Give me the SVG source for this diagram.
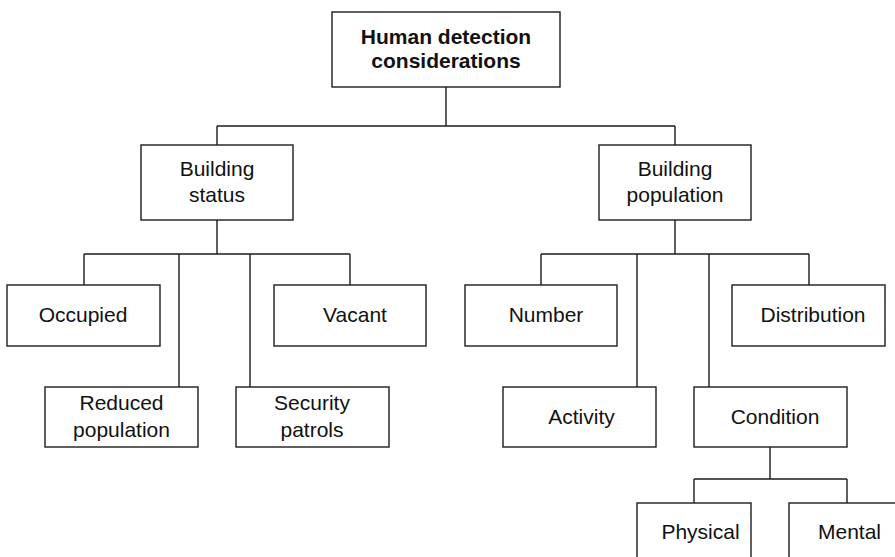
<svg xmlns="http://www.w3.org/2000/svg" width="895" height="557" viewBox="0 0 895 557">
  <style>
    .box { fill: #ffffff; stroke: #1c1c1c; stroke-width: 1.4; }
    .wire { fill: none; stroke: #1c1c1c; stroke-width: 1.4; }
    text { font-family: "Liberation Sans", Arial, Helvetica, sans-serif; font-size: 21px; fill: #111111; text-anchor: middle; }
    .title { font-weight: bold; }
  </style>
  <rect width="895" height="557" fill="#ffffff"/>

  <!-- tree connectors -->
  <g id="connectors">
    <path class="wire" d="M446 87V126M217 126H675M217 126V145M675 126V145"/>
    <path class="wire" d="M217 220V254M84 254H350M84 254V285M179 254V387M250 254V387M350 254V285"/>
    <path class="wire" d="M675 220V254M541 254H809M541 254V285M637 254V387M709 254V387M809 254V285"/>
    <path class="wire" d="M770 447V479M694 479H847M694 479V503M847 479V503"/>
  </g>

  <g id="root">
    <rect class="box" x="332" y="12" width="228" height="75"/>
    <text class="title" x="446" y="44">Human detection</text>
    <text class="title" x="446" y="68">considerations</text>
  </g>

  <g id="building-status">
    <rect class="box" x="141" y="145" width="152" height="75"/>
    <text x="217" y="176">Building</text>
    <text x="217" y="202">status</text>
  </g>

  <g id="building-population">
    <rect class="box" x="599" y="145" width="152" height="75"/>
    <text x="675" y="176">Building</text>
    <text x="675" y="202">population</text>
  </g>

  <g id="occupied">
    <rect class="box" x="7" y="285" width="153" height="61"/>
    <text x="83" y="322">Occupied</text>
  </g>

  <g id="vacant">
    <rect class="box" x="274" y="285" width="152" height="61"/>
    <text x="355" y="322">Vacant</text>
  </g>

  <g id="reduced-population">
    <rect class="box" x="45" y="387" width="153" height="60"/>
    <text x="121.5" y="410">Reduced</text>
    <text x="121.5" y="436.5">population</text>
  </g>

  <g id="security-patrols">
    <rect class="box" x="236" y="387" width="153" height="60"/>
    <text x="312" y="410">Security</text>
    <text x="312" y="436.5">patrols</text>
  </g>

  <g id="number">
    <rect class="box" x="465" y="285" width="152" height="61"/>
    <text x="546" y="322">Number</text>
  </g>

  <g id="distribution">
    <rect class="box" x="732" y="285" width="153" height="61"/>
    <text x="813" y="322">Distribution</text>
  </g>

  <g id="activity">
    <rect class="box" x="503" y="387" width="153" height="60"/>
    <text x="581.5" y="424">Activity</text>
  </g>

  <g id="condition">
    <rect class="box" x="694" y="387" width="153" height="60"/>
    <text x="775" y="424">Condition</text>
  </g>

  <g id="physical">
    <rect class="box" x="637" y="503" width="114" height="70"/>
    <text x="700.5" y="538.5">Physical</text>
  </g>

  <g id="mental">
    <rect class="box" x="789" y="503" width="153" height="70"/>
    <text x="849.5" y="538.5">Mental</text>
  </g>
</svg>
